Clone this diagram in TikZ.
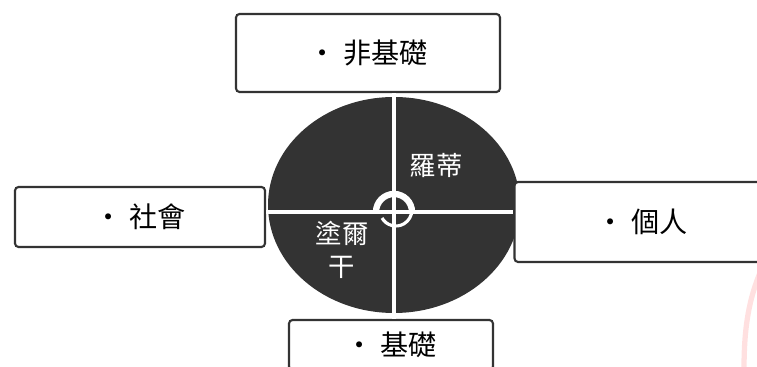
\documentclass[tikz,border=0pt]{standalone}
\usepackage{fontspec}
\setmainfont{Noto Sans CJK TC}
\begin{document}
\begin{tikzpicture}[x=0.02cm,y=-0.02cm,
    box/.style={draw=black!80,line width=1.2pt,rounded corners=2pt,fill=white,
      font=\fontsize{16}{18}\selectfont},
    divider/.style={white,line width=2.2pt},
    inner/.style={white,font=\fontsize{15}{19}\selectfont,align=center}]
  \useasboundingbox (0,0) rectangle (757,367);
  \clip (0,0) rectangle (757,367);
  % the circle and its quarters
  \fill[black!80] (394,205) ellipse [x radius=126, y radius=108];
  \coordinate (centre) at (394,212);
  \node[box,minimum width=5.28cm,minimum height=1.56cm] (nonbase) at (368,53) {• 非基礎};
  \node[box,minimum width=5cm,minimum height=1.2cm] (social) at (140,217) {• 社會};
  \node[box,minimum width=5.1cm,minimum height=1.6cm] (personal) at (642,222) {• 個人};
  \node[box,minimum width=4.08cm,minimum height=1cm] (base) at (391,345) {• 基礎};
  \draw[divider] (nonbase.south -| centre) -- (base.north -| centre);
  \draw[divider] (social.east |- centre) -- (personal.west |- centre);
  % the mark in the middle
  \draw[white,line width=3.6pt] (centre) ++(-18,0) arc[start angle=180,end angle=360,radius=18];
  \draw[white,line width=1.8pt] (centre) ++(-12,6) arc[start angle=150,end angle=0,radius=16] ++(0,-2);
  \node[inner] (rorty) at (436,165) {羅蒂};
  \node[inner] (durkheim) at (342,250) {塗爾\\干};
  % faint mark at the right edge
  \draw[red!12,line width=3pt] (762,268) .. controls (748,300) and (744,330) .. (744,370);
\end{tikzpicture}
\end{document}
